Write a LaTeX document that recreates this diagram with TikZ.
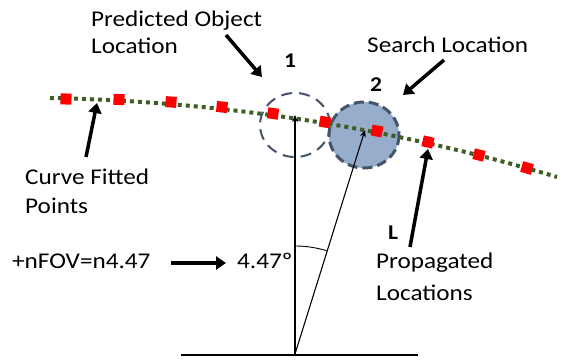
\documentclass[tikz,border=0pt]{standalone}
\usepackage{fontspec}
\setmainfont{Carlito}[FakeStretch=1.12]
\usetikzlibrary{arrows.meta}

\definecolor{curvegreen}{RGB}{62,94,36}
\definecolor{slate}{RGB}{68,84,106}
\definecolor{searchfill}{RGB}{150,174,203}

\begin{document}
\begin{tikzpicture}[x=1pt,y=-1pt,
        lbl/.style={font=\fontsize{22.5}{27}\selectfont, anchor=base west, inner sep=0pt},
        num/.style={font=\fontsize{21}{25}\selectfont\bfseries, anchor=base, inner sep=0pt},
        pointer/.style={line width=3.5pt, -{Triangle[length=10pt,width=13pt]}},
        ray/.style={line width=1.1pt, -{Stealth[length=7pt,width=6pt]}},
        fitpt/.style={fill=red, minimum size=11pt, inner sep=0pt}]
        \useasboundingbox (0,0) rectangle (566,361);

        \draw[slate, line width=2pt, dash pattern=on 11pt off 7pt] (295,125) ellipse [x radius=35, y radius=32];
        \draw[slate, line width=3pt, dash pattern=on 10pt off 5pt, fill=searchfill] (364,135) ellipse [x radius=35, y radius=33];

        \coordinate (cs) at (50,98);
        \coordinate (ce) at (557,177);
        \draw[curvegreen, line width=4pt, dash pattern=on 4pt off 4pt](cs) .. controls (224,101.5) and (393,127.8) .. (ce);

        \node[fitpt, rotate=-1] (p1) at (66,99) {};
        \node[fitpt, rotate=-2] (p2) at (119,99.5) {};
        \node[fitpt, rotate=-4] (p3) at (171,102) {};
        \node[fitpt, rotate=-6] (p4) at (222,107) {};
        \node[fitpt, rotate=-8] (p5) at (273,113.5) {};
        \node[fitpt, rotate=-10] (p6) at (325,122) {};
        \node[fitpt, rotate=-11] (p7) at (377,131) {};
        \node[fitpt, rotate=-13] (p8) at (428,142) {};
        \node[fitpt, rotate=-14] (p9) at (479,155) {};
        \node[fitpt, rotate=-16] (p10) at (527,168) {};

        \coordinate (base) at (295,354);
        \coordinate (pred) at (295,115);
        \coordinate (search) at (365,130);
        \draw[line width=2pt](181,355) -- (418,355);
        \draw[ray](base) -- (pred);
        \draw[ray](base) -- (search);
        \draw[line width=0.9pt](295,246) arc[start angle=-90, end angle=-73, radius=108];

        \node[lbl] (predtxt) at (91,27) {Predicted Object};
        \node[lbl] (predtxtb) at (91,54) {Location};
        \node[num] (one) at (290,68) {1};
        \node[lbl] (searchtxt) at (367,53) {Search Location};
        \node[num] (two) at (376,92) {2};
        \node[lbl] (curvetxt) at (25,185) {Curve Fitted};
        \node[lbl] (curvetxtb) at (25,213) {Points};
        \node[lbl] (fovtxt) at (12,268) {+nFOV=n4.47};
        \node[lbl] (angtxt) at (237,268) {4.47º};
        \node[num] (ell) at (393,240) {L};
        \node[lbl] (proptxt) at (376,268) {Propagated};
        \node[lbl] (proptxtb) at (376,300) {Locations};

        \coordinate (predfrom) at (226,35);
        \coordinate (predto) at (262,77);
        \coordinate (searchfrom) at (444,60);
        \coordinate (searchto) at (403,95);
        \coordinate (curvefrom) at (86,157);
        \coordinate (curveto) at (97,103);
        \coordinate (propfrom) at (410,247);
        \coordinate (propto) at (428,149);
        \coordinate (fovfrom) at (171,263);
        \coordinate (fovto) at (226,263);
        \draw[pointer](predfrom) -- (predto);
        \draw[pointer](searchfrom) -- (searchto);
        \draw[pointer](curvefrom) -- (curveto);
        \draw[pointer](propfrom) -- (propto);
        \draw[pointer](fovfrom) -- (fovto);
    \end{tikzpicture}
\end{document}
